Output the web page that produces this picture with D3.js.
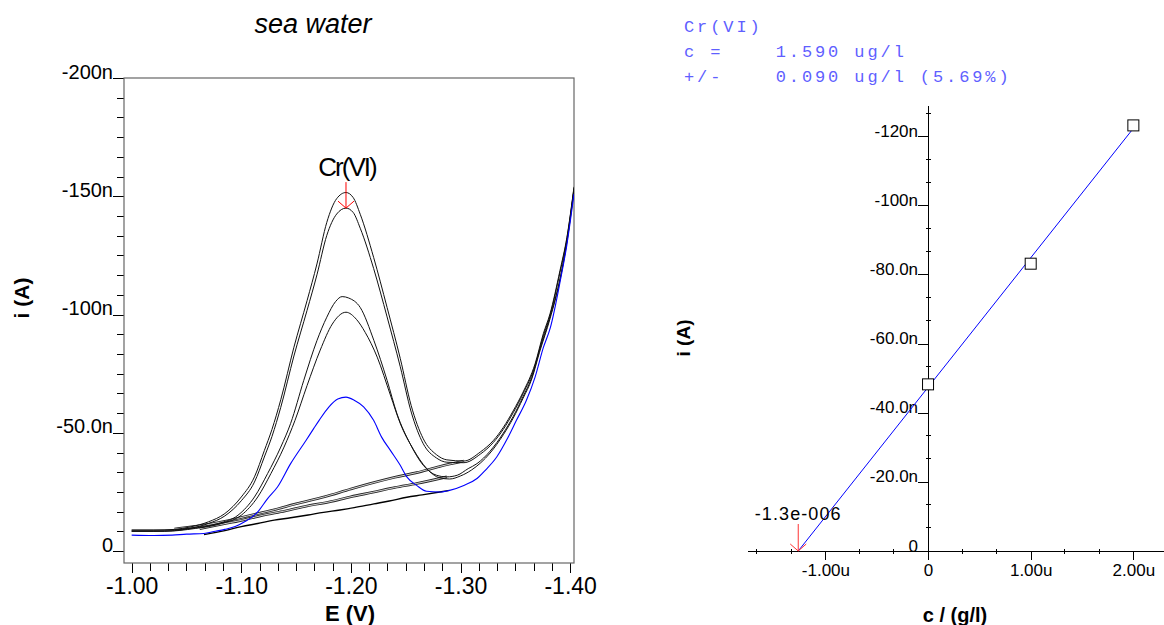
<html><head><meta charset="utf-8"><title>Cr(VI) in sea water</title>
<style>
body { margin: 0; background: #fff; }
svg { display: block; font-family: "Liberation Sans", Arial, sans-serif; }
.axis path, .axis line { stroke: #000; shape-rendering: crispEdges; }
</style>
<script src="https://d3js.org/d3.v7.min.js"></script>
</head>
<body>
<div id="chart"></div>
<script>
// voltammograms: [E (V), i (nA)]
const sampleRun = [[-1.000,-6.8],[-1.020,-6.6],[-1.037,-6.8],[-1.050,-7.2],[-1.066,-7.5],[-1.075,-8.3],[-1.085,-9.2],[-1.095,-10.5],[-1.103,-12.4],[-1.115,-16.6],[-1.124,-22.2],[-1.133,-27.1],[-1.145,-37.0],[-1.159,-46.8],[-1.166,-51.8],[-1.171,-55.3],[-1.180,-61.0],[-1.188,-64.3],[-1.1955,-65.1],[-1.203,-63.8],[-1.2116,-61.0],[-1.2207,-55.3],[-1.228,-48.2],[-1.236,-42.6],[-1.245,-36.3],[-1.251,-31.4],[-1.260,-27.8],[-1.269,-25.3],[-1.281,-25.0],[-1.290,-25.7],[-1.303,-27.8],[-1.315,-30.7],[-1.323,-34.4],[-1.333,-39.8],[-1.343,-47.8],[-1.351,-55.3],[-1.360,-63.7],[-1.368,-73.6],[-1.3755,-86.0],[-1.382,-94.6],[-1.391,-114.3],[-1.397,-129.5],[-1.4035,-151]];

const add1RunA = [[-1.000,-8.9],[-1.030,-8.9],[-1.054,-9.6],[-1.079,-11.7],[-1.097,-15.2],[-1.112,-22.9],[-1.124,-32.8],[-1.136,-44.0],[-1.145,-54.0],[-1.157,-72.2],[-1.169,-89.0],[-1.178,-98.9],[-1.186,-105.5],[-1.192,-107.6],[-1.198,-107.0],[-1.2085,-103.0],[-1.221,-89.0],[-1.233,-72.2],[-1.242,-58.1],[-1.254,-45.4],[-1.266,-36.3],[-1.278,-32.1],[-1.2875,-31.4],[-1.297,-32.1],[-1.307,-34.9],[-1.315,-37.0],[-1.327,-42.3],[-1.339,-49.9],[-1.348,-56.9],[-1.357,-65.3],[-1.365,-73.5],[-1.372,-84.8],[-1.3816,-98.9],[-1.391,-115.8],[-1.397,-131],[-1.4035,-153]];
const add1RunB = [[-1.000,-8.4],[-1.030,-8.4],[-1.058,-9.6],[-1.082,-11.7],[-1.100,-15.2],[-1.115,-22.9],[-1.127,-32.8],[-1.139,-44.0],[-1.149,-55.3],[-1.160,-70.0],[-1.172,-85.0],[-1.183,-96.0],[-1.1955,-101.0],[-1.205,-98.0],[-1.213,-92.5],[-1.224,-82.0],[-1.236,-66.0],[-1.245,-54.0],[-1.257,-43.0],[-1.269,-35.0],[-1.281,-31.0],[-1.290,-30.5],[-1.300,-31.8],[-1.310,-34.3],[-1.327,-41.5],[-1.339,-49.2],[-1.348,-56.2],[-1.357,-64.6],[-1.365,-72.8],[-1.372,-84.0],[-1.3816,-98.2],[-1.391,-115.2],[-1.397,-130.5],[-1.4035,-152.5]];

const add2RunA = [[-1.000,-8.9],[-1.020,-8.9],[-1.039,-9.2],[-1.054,-10.3],[-1.070,-12.4],[-1.085,-15.9],[-1.100,-22.9],[-1.112,-31.4],[-1.121,-42.5],[-1.128,-51.5],[-1.136,-64],[-1.148,-86.2],[-1.160,-105.9],[-1.169,-121.4],[-1.178,-139],[-1.187,-149],[-1.1955,-151.6],[-1.202,-149.5],[-1.2085,-142.4],[-1.2207,-124.2],[-1.233,-103.0],[-1.245,-81.5],[-1.255,-61.5],[-1.266,-47.5],[-1.278,-40.8],[-1.2875,-38.6],[-1.303,-38.1],[-1.318,-41.9],[-1.330,-46.8],[-1.339,-52.3],[-1.348,-59.3],[-1.357,-67.2],[-1.368,-79.2],[-1.3755,-91.9],[-1.3816,-100.3],[-1.3907,-118.6],[-1.397,-132.6],[-1.4035,-154]];
const add2RunB = [[-1.000,-8.4],[-1.020,-8.4],[-1.039,-8.7],[-1.054,-9.7],[-1.070,-11.7],[-1.085,-14.9],[-1.100,-21.3],[-1.112,-29.2],[-1.121,-39.8],[-1.128,-48.5],[-1.136,-60.8],[-1.148,-82.5],[-1.160,-101.8],[-1.169,-116.8],[-1.178,-133.5],[-1.187,-142.5],[-1.1955,-145.0],[-1.202,-143.2],[-1.2085,-136.5],[-1.2207,-119.5],[-1.233,-99.0],[-1.245,-78.0],[-1.255,-58.8],[-1.266,-45.4],[-1.278,-39.4],[-1.2875,-37.6],[-1.303,-37.4],[-1.318,-41.0],[-1.330,-46.0],[-1.339,-51.5],[-1.348,-58.5],[-1.357,-66.5],[-1.368,-78.4],[-1.3755,-91.0],[-1.3816,-99.5],[-1.3907,-117.8],[-1.397,-132.0],[-1.4035,-153.5]];

// peak baselines
const baseSample = [[-1.066,-7.0],[-1.085,-8.7],[-1.100,-10.4],[-1.115,-11.7],[-1.130,-13.1],[-1.145,-14.1],[-1.161,-15.3],[-1.175,-16.4],[-1.190,-17.4],[-1.203,-18.4],[-1.221,-20.0],[-1.235,-21.2],[-1.251,-22.8],[-1.265,-23.8],[-1.281,-25.0],[-1.290,-25.7]];
const baseAdd1 = [[-1.062,-9.5],[-1.080,-11.2],[-1.100,-13.0],[-1.120,-15.2],[-1.140,-17.0],[-1.160,-19.1],[-1.180,-20.8],[-1.200,-23.0],[-1.220,-24.9],[-1.240,-26.9],[-1.260,-28.6],[-1.2875,-31.4]];
const baseAdd2 = [[-1.039,-9.4],[-1.060,-10.6],[-1.085,-12.6],[-1.105,-14.8],[-1.130,-17.5],[-1.150,-20.0],[-1.176,-23.0],[-1.200,-26.3],[-1.221,-29.0],[-1.240,-31.2],[-1.260,-33.2],[-1.281,-35.8],[-1.303,-38.1]];

const peakPotential = -1.1955;
const peakMarkCurrent = -145.0;

const eTicks = [-1.0, -1.1, -1.2, -1.3, -1.4];
const iTicks = [0, -50, -100, -150, -200];

// standard addition: c (ug/l) vs peak current (nA)
const addConc = [0, 1, 2];
const peakCurrent = [-48.2, -83.1, -123.1];
const cTicks = [-1, 0, 1, 2];
const pTicks = [0, -20, -40, -60, -80, -100, -120];
const resultLines = ["Cr(VI)", "c =    1.590 ug/l", "+/-    0.090 ug/l (5.69%)"];

const width = 1164, height = 625;
const svg = d3.select("#chart").append("svg").attr("width", width).attr("height", height);

const hy = s => s.replace(/\u2212/g, "-");
function fmtN(v) { return v === 0 ? "0" : hy(d3.format(".3s")(v * 1e-9)); }
function fmtU(v) { return v === 0 ? "0" : hy(d3.format(".3s")(v * 1e-6)).replace("µ", "u"); }
function fmtE(v) { return hy(d3.format(".2f")(v)); }

// ---------- left: voltammograms ----------
const box = {x: 124, y: 78, w: 450, h: 485};
const xL = d3.scaleLinear().domain([-0.993, -1.4035]).range([box.x, box.x + box.w]);
const yL = d3.scaleLinear().domain([5, -200]).range([box.y + box.h, box.y]);

svg.append("text").attr("x", 313).attr("y", 33).attr("text-anchor", "middle")
    .attr("font-size", 27).attr("font-style", "italic").text("sea water");

svg.append("defs").append("clipPath").attr("id", "clipL").append("rect")
    .attr("x", box.x).attr("y", box.y).attr("width", box.w).attr("height", box.h);

// minor ticks
const minorE = d3.range(0, 25).map(i => -1 - i / 60);
svg.append("g").attr("class", "axis").attr("transform", `translate(0,${box.y + box.h})`)
    .call(d3.axisBottom(xL).tickValues(minorE).tickSize(8).tickFormat(""))
    .call(g => g.select(".domain").remove());
const minorI = d3.range(0, 25).map(i => -i * 50 / 6);
svg.append("g").attr("class", "axis").attr("transform", `translate(${box.x},0)`)
    .call(d3.axisLeft(yL).tickValues(minorI).tickSize(7).tickFormat(""))
    .call(g => g.select(".domain").remove());

svg.append("g").attr("class", "axis").attr("transform", `translate(0,${box.y + box.h})`)
    .call(d3.axisBottom(xL).tickValues(eTicks).tickSize(10).tickPadding(5).tickFormat(fmtE))
    .call(g => g.select(".domain").remove())
    .call(g => g.selectAll("text").attr("font-size", 23).attr("fill", "#000").attr("font-family", "Liberation Sans, Arial"));

svg.append("g").attr("class", "axis").attr("transform", `translate(${box.x},0)`)
    .call(d3.axisLeft(yL).tickValues(iTicks).tickSize(11).tickPadding(0).tickFormat(fmtN))
    .call(g => g.select(".domain").remove())
    .call(g => g.selectAll("text").attr("dy", "0").attr("font-size", 20).attr("fill", "#000").attr("font-family", "Liberation Sans, Arial"));

svg.append("rect").attr("x", box.x).attr("y", box.y).attr("width", box.w).attr("height", box.h)
    .attr("fill", "none").attr("stroke", "#666").attr("stroke-width", 1.2);

svg.append("text").attr("x", 350).attr("y", 621).attr("text-anchor", "middle")
    .attr("font-size", 22).attr("font-weight", "bold").text("E (V)");
svg.append("text").attr("transform", "translate(29,298) rotate(-90)").attr("text-anchor", "middle")
    .attr("font-size", 21).attr("font-weight", "bold").text("i (A)");

const lineL = d3.line().x(d => xL(d[0])).y(d => yL(d[1])).curve(d3.curveMonotoneX);
const plotL = svg.append("g").attr("clip-path", "url(#clipL)");

// doubled baselines
[baseAdd2, baseAdd1].forEach(b => {
    plotL.append("path").attr("d", lineL(b)).attr("fill", "none").attr("stroke", "#222").attr("stroke-width", 2.6);
    plotL.append("path").attr("d", lineL(b)).attr("fill", "none").attr("stroke", "#fff").attr("stroke-width", 0.8);
});
plotL.append("path").attr("d", lineL(baseSample)).attr("fill", "none").attr("stroke", "#000").attr("stroke-width", 1.4);

[add2RunA, add2RunB, add1RunA, add1RunB].forEach(r => {
    plotL.append("path").attr("d", lineL(r)).attr("fill", "none").attr("stroke", "#111").attr("stroke-width", 1);
});
plotL.append("path").attr("d", lineL(sampleRun)).attr("fill", "none").attr("stroke", "#0000ff").attr("stroke-width", 1.1);

// peak marker
const px = xL(peakPotential), py = yL(peakMarkCurrent);
svg.append("path").attr("d", `M${px},${py - 26}L${px},${py}M${px - 8},${py - 7}L${px},${py}L${px + 8},${py - 7}`)
    .attr("fill", "none").attr("stroke", "#ff0000").attr("stroke-width", 1);
svg.append("text").attr("x", px + 1).attr("y", py - 32).attr("text-anchor", "middle")
    .attr("font-size", 26).attr("letter-spacing", "-2px").text("Cr(VI)");

// ---------- right: standard addition ----------
const xR = d3.scaleLinear().domain([-1.7635, 2.2985]).range([747, 1164]);
const yR = d3.scaleLinear().domain([0, -129]).range([551, 105]);

const fit = (() => {
    const mx = d3.mean(addConc), my = d3.mean(peakCurrent);
    const sxy = d3.sum(addConc, (x, i) => (x - mx) * (peakCurrent[i] - my));
    const sxx = d3.sum(addConc, x => (x - mx) ** 2);
    const m = sxy / sxx;
    return {m: m, b: my - m * mx};
})();
const x0 = -fit.b / fit.m;

svg.append("g").attr("class", "axis").attr("transform", `translate(0,${yR(0)})`)
    .call(d3.axisBottom(xR).tickValues(cTicks).tickSize(9).tickSizeOuter(0).tickPadding(4).tickFormat(fmtU))
    .call(g => g.selectAll("text").attr("font-size", 17).attr("fill", "#000").attr("font-family", "Liberation Sans, Arial"));
svg.append("g").attr("class", "axis").attr("transform", `translate(${xR(0)},0)`)
    .call(d3.axisLeft(yR).tickValues(pTicks).tickSize(10).tickSizeOuter(0).tickPadding(0).tickFormat(fmtN))
    .call(g => g.selectAll("text").attr("dy", "0").attr("font-size", 17).attr("fill", "#000").attr("font-family", "Liberation Sans, Arial"));

const minorC = d3.range(-5, 7).filter(k => k % 3 !== 0).map(k => k / 3);
svg.append("g").selectAll("line").data(minorC).join("line")
    .attr("x1", d => xR(d)).attr("x2", d => xR(d)).attr("y1", yR(0) - 2).attr("y2", yR(0) + 3)
    .attr("stroke", "#000").attr("shape-rendering", "crispEdges");
const minorP = d3.range(0, 20).filter(k => k % 3 !== 0).map(k => -k * 20 / 3);
svg.append("g").selectAll("line").data(minorP).join("line")
    .attr("x1", xR(0) - 2).attr("x2", xR(0) + 3).attr("y1", d => yR(d)).attr("y2", d => yR(d))
    .attr("stroke", "#000").attr("shape-rendering", "crispEdges");

svg.append("path")
    .attr("d", d3.line()([[xR(x0), yR(0)], [xR(2), yR(fit.b + fit.m * 2)]]))
    .attr("stroke", "#0000ff").attr("stroke-width", 1).attr("fill", "none");

svg.append("g").selectAll("rect").data(addConc).join("rect")
    .attr("x", (d, i) => xR(d) - 5.5).attr("y", (d, i) => yR(peakCurrent[i]) - 5.5)
    .attr("width", 11).attr("height", 11).attr("fill", "#fff").attr("stroke", "#000").attr("stroke-width", 1);

const ax = xR(x0), ay = yR(0);
svg.append("path").attr("d", `M${ax},${ay - 27}L${ax},${ay}M${ax - 8},${ay - 7}L${ax},${ay}L${ax + 8},${ay - 7}`)
    .attr("fill", "none").attr("stroke", "#ff3333").attr("stroke-width", 1);
const expLabel = (x0 * 1e-6).toExponential(1).replace(/e([+-])(\d+)/, (s, sg, d) => "e" + sg + d.padStart(3, "0"));
svg.append("text").attr("x", ax).attr("y", ay - 31).attr("text-anchor", "middle")
    .attr("font-size", 18).attr("letter-spacing", "1.1px").text(expLabel);

svg.append("text").attr("x", 955).attr("y", 622).attr("text-anchor", "middle")
    .attr("font-size", 20).attr("font-weight", "bold").text("c / (g/l)");
svg.append("text").attr("transform", "translate(690,338) rotate(-90)").attr("text-anchor", "middle")
    .attr("font-size", 19).attr("font-weight", "bold").text("i (A)");

svg.append("g").selectAll("text").data(resultLines).join("text")
    .attr("x", 684).attr("y", (d, i) => 31.5 + i * 25)
    .attr("font-family", "Liberation Mono, Courier New, monospace").attr("font-size", 17)
    .attr("letter-spacing", "2.9px").attr("fill", "#5f5fff").style("white-space", "pre")
    .text(d => d);
</script>
</body></html>
